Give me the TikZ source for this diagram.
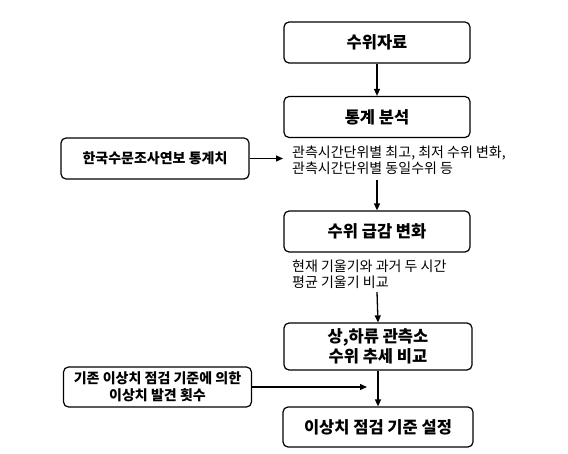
\documentclass[tikz,border=0pt]{standalone}
\usepackage{fontspec}
\setmainfont{Noto Sans CJK KR}
\usetikzlibrary{arrows.meta}
\begin{document}
\begin{tikzpicture}[x=1pt,y=-1pt,
  box/.style={draw, line width=1.2pt, rounded corners=5pt, minimum width=186pt, minimum height=41pt, align=center, inner sep=0pt, font=\bfseries\fontsize{16.5}{20}\selectfont},
  sidebox/.style={draw, line width=1.2pt, rounded corners=5pt, minimum width=188pt, minimum height=41pt, align=center, inner sep=0pt, font=\bfseries\fontsize{14}{16.5}\selectfont},
  note/.style={anchor=west, align=left, inner sep=0pt, font=\fontsize{14}{16}\selectfont},
  arr/.style={line width=1.3pt, -{Triangle[length=7pt,width=6pt]}}]
\useasboundingbox (0,0) rectangle (568,454);
\node[box] (b1) at (377,42.5) {수위자료};
\node[box] (b2) at (377,117) {통계 분석};
\node[box] (b3) at (377,231.5) {수위 급감 변화};
\node[box, minimum width=188pt, minimum height=47pt] (b4) at (378,346.5) {상,하류 관측소\\수위 추세 비교};
\node[box, minimum width=190pt, minimum height=40pt] (b5) at (378,427) {이상치 점검 기준 설정};
\node[sidebox] (l1) at (155,158.5) {한국수문조사연보 통계치};
\node[sidebox, minimum height=40pt] (l2) at (157.5,387) {기존 이상치 점검 기준에 의한\\이상치 발견 횟수};
\node[note] (n1) at (292,160) {관측시간단위별 최고, 최저 수위 변화,\\관측시간단위별 동일수위 등};
\node[note] (n2) at (292,274) {현재 기울기와 과거 두 시간\\평균 기울기 비교};
\coordinate (c1) at (283,158.5);
\coordinate (c2) at (377,180);
\coordinate (c3) at (377,292);
\coordinate (c4) at (367,387);
\draw[arr] (b1.south) -- (b2.north);
\draw[arr] (l1.east) -- (c1);
\draw[arr] (c2) -- (b3.north);
\draw[arr] (c3) -- (b4.north);
\draw[arr] (l2.east) -- (c4);
\draw[arr] (b4.south) -- (b5.north);
\end{tikzpicture}
\end{document}
